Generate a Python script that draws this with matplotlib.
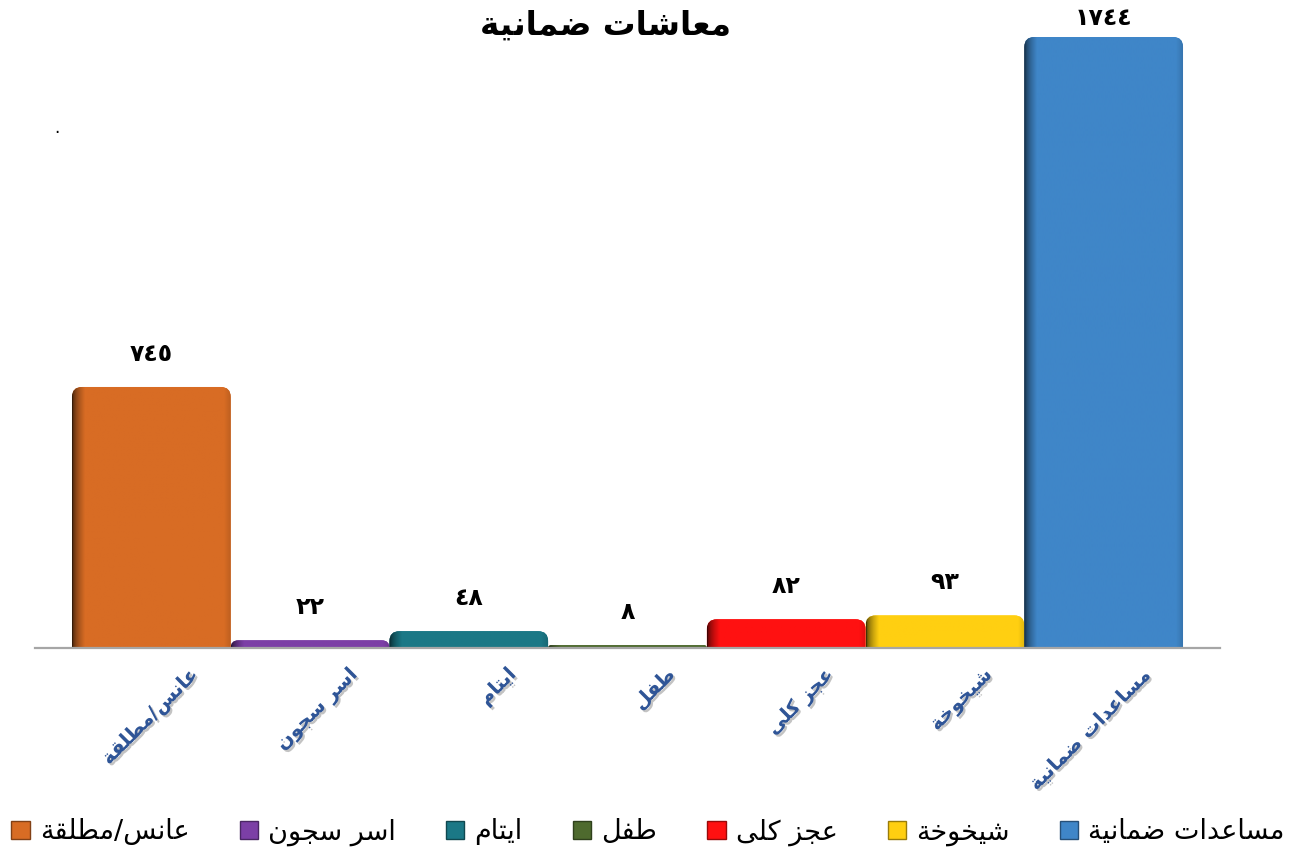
import matplotlib
matplotlib.use('Agg')
import matplotlib.pyplot as plt
import matplotlib.patheffects as pe
import numpy as np
from matplotlib.colors import to_rgb
from matplotlib.patches import FancyBboxPatch, Patch
from matplotlib.transforms import ScaledTranslation

# data
categories = ['عانس/مطلقة', 'اسر سجون', 'ايتام', 'طفل', 'عجز كلى', 'شيخوخة', 'مساعدات ضمانية']
values = [745, 22, 48, 8, 82, 93, 1744]
colors = ['#D86C24', '#7C3FA6', '#1B7886', '#4E6A2E', '#FF1111', '#FFCF11', '#3F86C8']
title = 'معاشات ضمانية'

# matplotlib has no arabic shaping, so do it by hand (presentation forms + reverse)
AR_FORMS = {
    'ا': (0xFE8D, False), 'ة': (0xFE93, False), 'ت': (0xFE95, True), 'ج': (0xFE9D, True),
    'خ': (0xFEA5, True), 'د': (0xFEA9, False), 'ر': (0xFEAD, False), 'ز': (0xFEAF, False),
    'س': (0xFEB1, True), 'ش': (0xFEB5, True), 'ض': (0xFEBD, True), 'ط': (0xFEC1, True),
    'ع': (0xFEC9, True), 'ف': (0xFED1, True), 'ق': (0xFED5, True), 'ك': (0xFED9, True),
    'ل': (0xFEDD, True), 'م': (0xFEE1, True), 'ن': (0xFEE5, True), 'و': (0xFEED, False),
    'ى': (0xFEEF, False), 'ي': (0xFEF1, True),
}


def shape_ar(s):
    out = []
    for i, ch in enumerate(s):
        if ch not in AR_FORMS:
            out.append(ch)
            continue
        base, dual = AR_FORMS[ch]
        prev = s[i - 1] if i > 0 else ''
        nxt = s[i + 1] if i + 1 < len(s) else ''
        jp = prev in AR_FORMS and AR_FORMS[prev][1]
        jn = dual and nxt in AR_FORMS
        out.append(chr(base + (1 if jp else 0) + (2 if jn else 0)))
    return ''.join(reversed(out))


def ar_digits(n):
    return str(n).translate(str.maketrans('0123456789', '٠١٢٣٤٥٦٧٨٩'))


def shade(c, f):
    r, g, b = to_rgb(c)
    return np.array([r * f, g * f, b * f])


plt.rcParams['font.family'] = ['DejaVu Sans']

W, H = 1301, 859
fig = plt.figure(figsize=(W / 100, H / 100), dpi=100)
ax_l, ax_r, ax_b, ax_t = 35, 1220, 648, 20
ax = fig.add_axes([ax_l / W, 1 - ax_b / H, (ax_r - ax_l) / W, (ax_b - ax_t) / H])

x = np.arange(len(categories))
ymax = max(values) * (ax_b - ax_t) / 611
xpad = 0.233
ax.set_xlim(-0.5 - xpad, len(x) - 0.5 + xpad)
ax.set_ylim(0, ymax)

bars = ax.bar(x, values, width=1.0, color=colors, alpha=0)

# pixels per data unit, for rounded tops and gradients
px_x = (ax_r - ax_l) / (len(x) + 2 * xpad)
px_y = (ax_b - ax_t) / ymax
aspect = px_x / px_y

nx = 160
t = np.linspace(0, 1, nx)
prof = 0.25 + 0.75 * np.clip(t / 0.08, 0, 1) ** 0.55
prof = prof * (1 - 0.12 * np.clip((t - 0.96) / 0.04, 0, 1))

for r, c in zip(bars, colors):
    x0, w, h = r.get_x(), r.get_width(), r.get_height()
    rad_px = min(10, h * px_y)
    rad = rad_px / px_x
    ext = rad_px / px_y
    patch = FancyBboxPatch((x0, -ext), w, h + ext,
                           boxstyle=f'round,pad=0,rounding_size={rad}',
                           mutation_aspect=aspect, facecolor=c, edgecolor='none', zorder=2)
    ax.add_patch(patch)
    img = np.clip(np.array([shade(c, f) for f in prof]), 0, 1)[None, :, :]
    im = ax.imshow(img, extent=(x0, x0 + w, 0, h), aspect='auto', origin='lower',
                   zorder=3, interpolation='bilinear')
    im.set_clip_path(patch)

ax.set_xlim(-0.5 - xpad, len(x) - 0.5 + xpad)
ax.set_ylim(0, ymax)

# value labels, pushed down when they would leave the chart
for xi, v in zip(x, values):
    room_px = (ymax - v) * px_y + ax_t
    off_px = min(21, room_px - 30)
    ax.annotate(ar_digits(v), (xi, v), xytext=(0, off_px * 0.72), textcoords='offset points',
                ha='center', va='bottom', fontsize=17, fontweight='bold', color='black',
                annotation_clip=False)

for s in ['top', 'right', 'left']:
    ax.spines[s].set_visible(False)
ax.spines['bottom'].set_color('#A6A6A6')
ax.spines['bottom'].set_linewidth(1.6)
ax.spines['bottom'].set_zorder(4)
ax.set_yticks([])
ax.set_xticks(x)
ax.set_xticklabels([shape_ar(c) for c in categories], rotation=45, ha='right', va='top',
                   rotation_mode='anchor', fontsize=14, fontweight='bold', color='#2F5597')
ax.tick_params(axis='x', length=0, pad=12)
for lab in ax.get_xticklabels():
    lab.set_transform(lab.get_transform() + ScaledTranslation(0.38, 0, fig.dpi_scale_trans))
    lab.set_path_effects([pe.SimplePatchShadow(offset=(1.5, -1.5), shadow_rgbFace='#888888', alpha=0.5),
                          pe.Normal()])

fig.text(605 / W, 1 - 25 / H, shape_ar(title), ha='center', va='center',
         fontsize=23.5, fontweight='bold')
fig.text(57 / W, 1 - 128 / H, '.', ha='center', va='center', fontsize=12)

handles = [Patch(facecolor=c, edgecolor=shade(c, 0.6)) for c in colors]
fig.legend(handles, [shape_ar(c) for c in categories], loc='center',
           bbox_to_anchor=(648 / W, 1 - 832 / H), ncol=len(categories), frameon=False,
           fontsize=19.5, handlelength=0.68, handleheight=0.68, handletextpad=0.37,
           columnspacing=1.85, borderpad=0.2)

fig.savefig('out.png', dpi=100)
